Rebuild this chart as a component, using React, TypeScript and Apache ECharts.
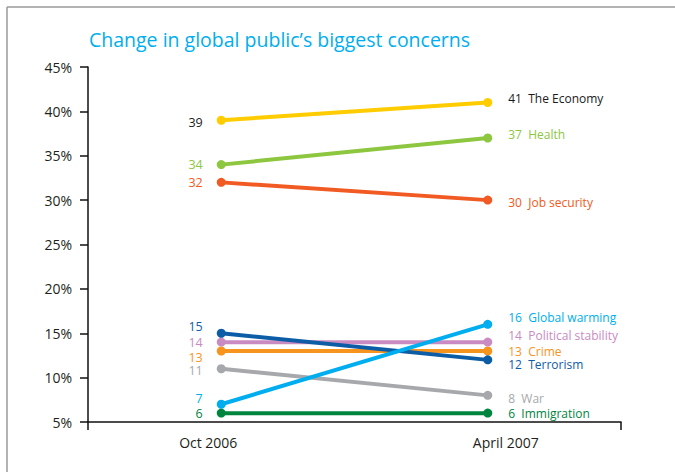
import React, { useEffect, useRef } from "react";
import * as echarts from "echarts";

const categories = ["Oct 2006", "April 2007"];
const concerns = [
  "The Economy",
  "Health",
  "Job security",
  "Immigration",
  "War",
  "Political stability",
  "Crime",
  "Terrorism",
  "Global warming",
];
const valuesOct2006 = [39, 34, 32, 6, 11, 14, 13, 15, 7];
const valuesApr2007 = [41, 37, 30, 6, 8, 14, 13, 12, 16];
const yTicks = { min: 5, max: 45, step: 5 };

const lineColors = ["#FFCC00", "#8DC63F", "#F15A22", "#00853F", "#A6A8AB", "#C98BC1", "#F7941D", "#0D5CA6", "#00AEEF"];
const labelColors = ["#1a1a1a", "#8DC63F", "#F15A22", "#00853F", "#A6A8AB", "#C98BC1", "#F7941D", "#0D5CA6", "#00AEEF"];
const leftOffsets = [[0, 2], [0, 0], [0, 0], [0, 0], [0, 2], [0, 0], [0, 6], [0, -7], [0, -6]];
const rightOffsets = [[0, -4], [0, -4], [0, 2], [0, 0], [0, 3], [0, -7], [0, 0], [0, 5], [0, -7]];
const xLabelPadding = [[0, 26, 0, 0], [0, 0, 0, 36]];

const FONT = "'Open Sans', 'Noto Sans', sans-serif";

export default function App() {
  const ref = useRef<HTMLDivElement>(null);
  useEffect(() => {
    if (!ref.current) return;
    const chart = echarts.init(ref.current, null, { renderer: "svg" });
    const series = concerns.map((name, i) => ({
      name,
      type: "line",
      symbol: "circle",
      symbolSize: 9,
      lineStyle: { color: lineColors[i], width: 4 },
      itemStyle: { color: lineColors[i] },
      z: 2 + i,
      data: [
        {
          value: valuesOct2006[i],
          label: {
            show: true,
            position: "left",
            distance: 14,
            offset: leftOffsets[i],
            color: labelColors[i],
            fontSize: 12.5,
            lineHeight: 13,
            fontFamily: FONT,
            formatter: String(valuesOct2006[i]),
          },
        },
        {
          value: valuesApr2007[i],
          label: {
            show: true,
            position: "right",
            distance: 16,
            offset: rightOffsets[i],
            color: labelColors[i],
            fontSize: 12,
            lineHeight: 13,
            fontFamily: FONT,
            formatter: `${valuesApr2007[i]}  ${name}`,
          },
        },
      ],
    }));
    chart.setOption({
      animation: false,
      backgroundColor: "#ffffff",
      textStyle: { fontFamily: FONT },
      title: {
        text: "Change in global public\u2019s biggest concerns",
        left: 84,
        top: 24,
        textStyle: { color: "#00AEEF", fontSize: 19.5, fontWeight: "normal", fontFamily: FONT },
      },
      grid: { left: 88, right: 54, top: 67, bottom: 50, containLabel: false },
      xAxis: {
        type: "category",
        data: categories,
        boundaryGap: true,
        axisLine: { lineStyle: { color: "#111", width: 1.5 } },
        axisTick: { show: false },
        axisLabel: {
          color: "#231f20",
          fontSize: 14,
          margin: 13,
          fontFamily: FONT,
          formatter: (v: string) => `{l${categories.indexOf(v)}|${v}}`,
          rich: {
            l0: { padding: xLabelPadding[0], fontSize: 14, color: "#231f20", fontFamily: FONT },
            l1: { padding: xLabelPadding[1], fontSize: 14, color: "#231f20", fontFamily: FONT },
          },
        },
      },
      yAxis: {
        type: "value",
        min: yTicks.min,
        max: yTicks.max,
        interval: yTicks.step,
        splitLine: { show: false },
        axisLine: { show: true, lineStyle: { color: "#111", width: 1.5 } },
        axisTick: { show: true, length: 8, lineStyle: { color: "#111", width: 1.5 } },
        axisLabel: { color: "#231f20", fontSize: 14, margin: 16, formatter: "{value}%", fontFamily: FONT },
      },
      graphic: [
        { type: "line", shape: { x1: 7, y1: 7, x2: 675, y2: 7 }, style: { stroke: "#9a9a9a", lineWidth: 1.5 } },
        { type: "line", shape: { x1: 7, y1: 7, x2: 7, y2: 472 }, style: { stroke: "#9a9a9a", lineWidth: 1.5 } },
        { type: "line", shape: { x1: 88, y1: 422, x2: 88, y2: 430 }, style: { stroke: "#111", lineWidth: 1.5 } },
        { type: "line", shape: { x1: 621, y1: 422, x2: 621, y2: 430 }, style: { stroke: "#111", lineWidth: 1.5 } },
      ],
      series,
    });
    return () => chart.dispose();
  }, []);
  return (
    <div
      ref={ref}
      style={{ position: "fixed", left: 0, top: 0, width: 675, height: 472 }}
    />
  );
}
